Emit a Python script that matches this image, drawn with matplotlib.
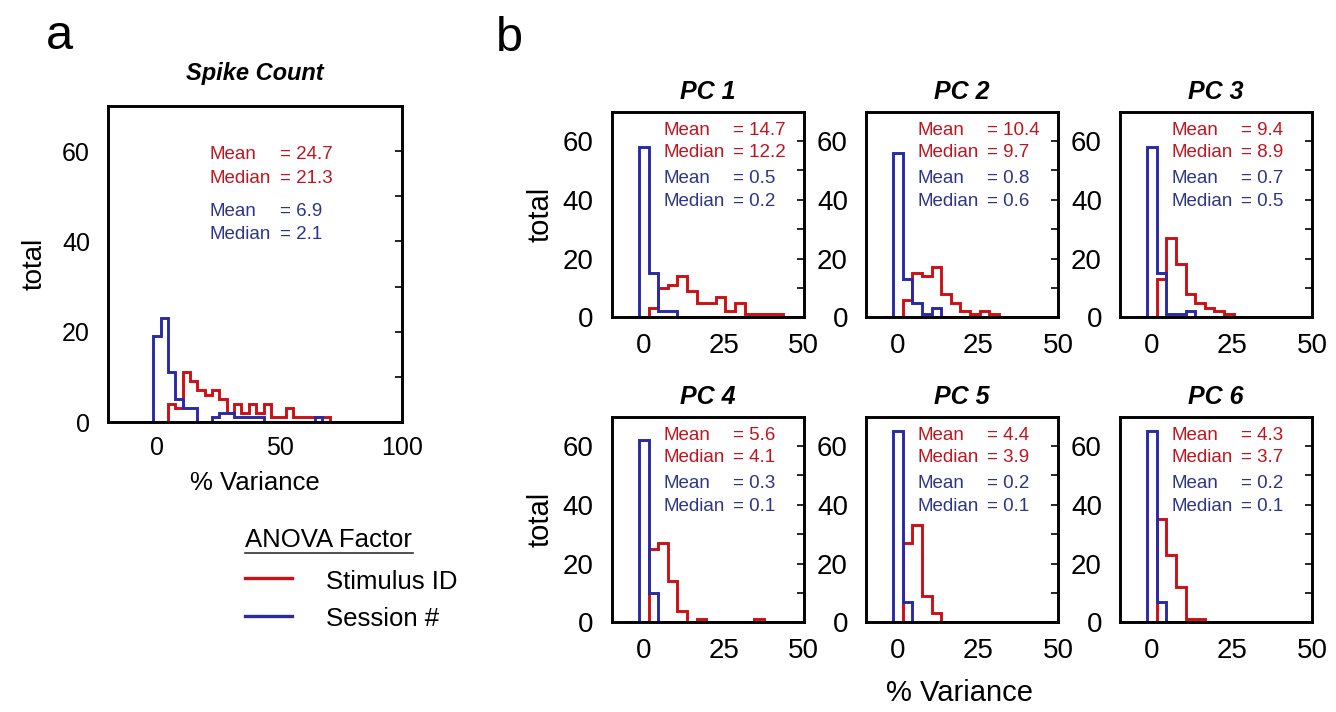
import numpy as np
import matplotlib
matplotlib.use('Agg')
import matplotlib.pyplot as plt
from matplotlib.lines import Line2D

plt.rcParams['font.family'] = ['Liberation Sans', 'DejaVu Sans']

RED = '#cc1016'
BLUE = '#2a2aa6'
RED_TXT = '#c0141e'
BLUE_TXT = '#2e3588'

# histogram counts, bins of 3 % centred at 0, 3, 6, ...
spike_stim = [0, 0, 4, 3, 11, 9, 7, 6, 7, 5, 2, 4, 2, 4, 2, 4, 1, 1, 3, 1, 1, 1, 1, 1]
spike_sess = [19, 23, 11, 5, 3, 3, 0, 0, 1, 2, 2, 1, 1, 1, 1, 0, 0, 0, 0, 0, 0, 0, 1, 0]
spike_stats = ['24.7', '21.3', '6.9', '2.1']

pc1_stim = [0, 3, 10, 11, 14, 9, 5, 5, 7, 2, 5, 1, 1, 1, 1]
pc1_sess = [58, 15, 2, 2]
pc2_stim = [0, 6, 15, 14, 17, 8, 5, 2, 1, 2, 1]
pc2_sess = [56, 13, 5, 1, 3]
pc3_stim = [0, 13, 27, 18, 8, 5, 3, 2, 1]
pc3_sess = [58, 15, 1, 1, 2]
pc4_stim = [0, 25, 27, 14, 4, 0, 1, 0, 0, 0, 0, 0, 1]
pc4_sess = [62, 10]
pc5_stim = [0, 27, 33, 9, 3]
pc5_sess = [65, 7]
pc6_stim = [0, 35, 23, 12, 1, 1]
pc6_sess = [65, 7]

pc_titles = ['PC 1', 'PC 2', 'PC 3', 'PC 4', 'PC 5', 'PC 6']
pc_stim = [pc1_stim, pc2_stim, pc3_stim, pc4_stim, pc5_stim, pc6_stim]
pc_sess = [pc1_sess, pc2_sess, pc3_sess, pc4_sess, pc5_sess, pc6_sess]
pc_stats = [['14.7', '12.2', '0.5', '0.2'],
            ['10.4', '9.7', '0.8', '0.6'],
            ['9.4', '8.9', '0.7', '0.5'],
            ['5.6', '4.1', '0.3', '0.1'],
            ['4.4', '3.9', '0.2', '0.1'],
            ['4.3', '3.7', '0.2', '0.1']]

STAT_FS = 13.5


def draw_hist(ax, counts, color, xmax):
    # pad with an empty bin below 0 and empty bins up to the right edge
    vals = [0] + list(counts)
    while -4.5 + 3 * len(vals) < xmax + 3:
        vals.append(0)
    edges = -4.5 + 3 * np.arange(len(vals) + 1)
    ax.stairs(vals, edges, color=color, lw=2.1, baseline=0)


def style_axes(ax, xlim, xticks, fs, xpad):
    ax.set_xlim(*xlim)
    ax.set_ylim(0, 70)
    ax.set_xticks(xticks)
    ax.set_yticks([0, 20, 40, 60])
    ax.set_yticks(np.arange(0, 70, 10), minor=True)
    ax.tick_params(axis='x', length=0, labelsize=fs, pad=xpad)
    ax.tick_params(axis='y', which='both', left=False, right=True,
                   direction='in', labelsize=fs, pad=13, width=1.2, length=5)
    for s in ax.spines.values():
        s.set_linewidth(2.1)


def draw_stats(ax, stats, x0, x1, ys):
    labels = ['Mean', 'Median', 'Mean', 'Median']
    colors = [RED_TXT, RED_TXT, BLUE_TXT, BLUE_TXT]
    for lab, val, col, y in zip(labels, stats, colors, ys):
        ax.text(x0, y, lab, transform=ax.transAxes, color=col,
                fontsize=STAT_FS, va='center', ha='left')
        ax.text(x1, y, '= ' + val, transform=ax.transAxes, color=col,
                fontsize=STAT_FS, va='center', ha='left')


fig = plt.figure(figsize=(13.36, 7.12), dpi=100)

# ---- panel a
axa = fig.add_axes([0.0808, 0.4073, 0.2201, 0.4438])
draw_hist(axa, spike_stim, RED, 100)
draw_hist(axa, spike_sess, BLUE, 100)
style_axes(axa, (-20, 100), [0, 50, 100], 18, 10)
axa.set_title('Spike Count', fontsize=17, fontweight='bold', style='italic', pad=19)
axa.set_ylabel('total', fontsize=20, labelpad=10)
axa.set_xlabel('% Variance', fontsize=18.5, labelpad=8)
draw_stats(axa, spike_stats, 0.347, 0.585, [0.845, 0.772, 0.665, 0.592])

fig.text(0.034, 0.949, 'a', fontsize=35, va='center', ha='left')
fig.text(0.371, 0.946, 'b', fontsize=35, va='center', ha='left')

# ---- legend
fig.text(245 / 1336, 1 - 540 / 712, 'ANOVA Factor', fontsize=18.5, va='center', ha='left')
fig.add_artist(Line2D([245 / 1336, 413 / 1336], [1 - 553 / 712] * 2, color='#333333', lw=1.2))
fig.add_artist(Line2D([245 / 1336, 292 / 1336], [1 - 578 / 712] * 2, color=RED, lw=2.4))
fig.add_artist(Line2D([245 / 1336, 292 / 1336], [1 - 616 / 712] * 2, color=BLUE, lw=2.4))
fig.text(326 / 1336, 1 - 582 / 712, 'Stimulus ID', fontsize=18.5, va='center', ha='left')
fig.text(326 / 1336, 1 - 619 / 712, 'Session #', fontsize=18.5, va='center', ha='left')

# ---- panel b
lefts = [0.4579, 0.6482, 0.8383]
bottoms = [0.5544, 0.1260]
for i in range(6):
    r, c = divmod(i, 3)
    ax = fig.add_axes([lefts[c], bottoms[r], 0.1437, 0.2888])
    draw_hist(ax, pc_stim[i], RED, 50)
    draw_hist(ax, pc_sess[i], BLUE, 50)
    style_axes(ax, (-10, 50), [0, 25, 50], 20, 11)
    ax.set_title(pc_titles[i], fontsize=18, fontweight='bold', style='italic', pad=9)
    draw_stats(ax, pc_stats[i], 0.27, 0.63, [0.91, 0.80, 0.675, 0.565])
    if c == 0:
        ax.set_ylabel('total', fontsize=21, labelpad=6)

fig.text(960 / 1336, 1 - 693 / 712, '% Variance', fontsize=21, va='center', ha='center')

fig.savefig('out.png', dpi=100)
